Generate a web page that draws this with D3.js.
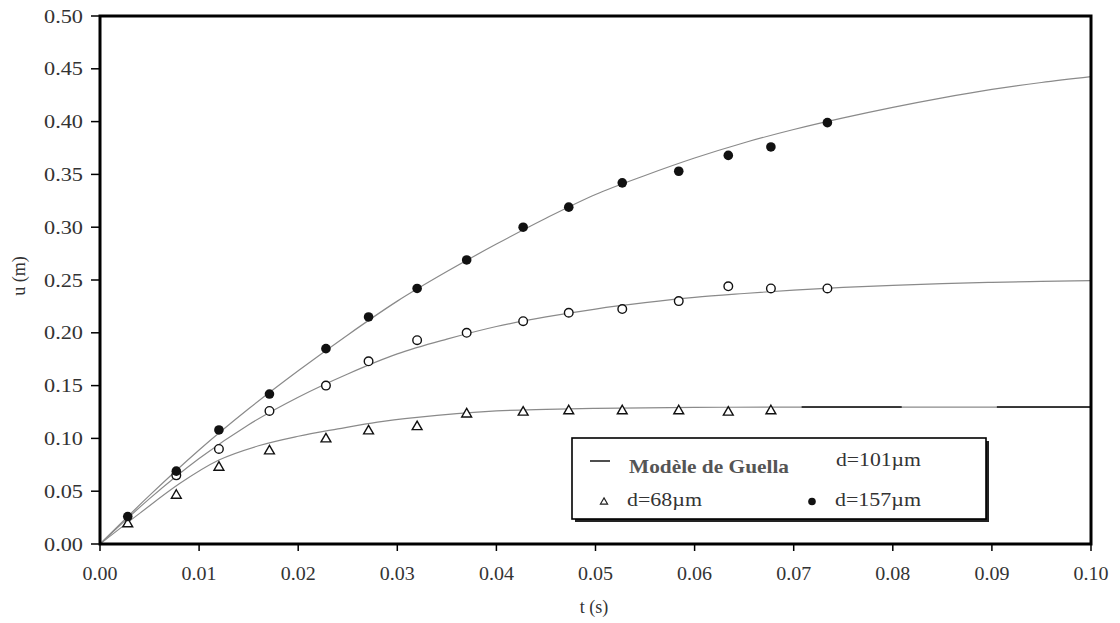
<!DOCTYPE html>
<html>
<head>
<meta charset="utf-8">
<script src="https://cdn.jsdelivr.net/npm/d3@7"></script>
<style>
  html, body { margin: 0; padding: 0; background: #fff; }
  svg { display: block; }
</style>
</head>
<body>
<svg id="chart" width="1120" height="623" font-family="'Liberation Serif', 'Times New Roman', Tinos, Times, serif"></svg>
<script>
// ---- data ----
const tSample = [0.0028, 0.0077, 0.0120, 0.0171, 0.0228, 0.0271, 0.0320, 0.0370, 0.0427, 0.0473, 0.0527, 0.0584, 0.0634, 0.0677, 0.0734];
const u157 = [0.026, 0.069, 0.108, 0.142, 0.185, 0.215, 0.242, 0.269, 0.300, 0.319, 0.342, 0.353, 0.368, 0.376, 0.399];
const u101 = [null, 0.065, 0.090, 0.126, 0.150, 0.173, 0.193, 0.200, 0.211, 0.219, 0.2225, 0.230, 0.244, 0.242, 0.242];
const u68  = [0.019, 0.046, 0.0726, 0.088, 0.0994, 0.107, 0.111, 0.123, 0.1247, 0.126, 0.126, 0.126, 0.1247, 0.126, null];

// model (Guella) curves
const modelT157 = [0, 0.005, 0.01, 0.015, 0.02, 0.025, 0.03, 0.035, 0.04, 0.045, 0.05, 0.055, 0.06, 0.065, 0.07, 0.075, 0.08, 0.085, 0.09, 0.095, 0.1];
const modelU157 = [0, 0.046, 0.089, 0.128, 0.164, 0.198, 0.230, 0.258, 0.284, 0.3085, 0.331, 0.349, 0.3655, 0.380, 0.3925, 0.4035, 0.4135, 0.4225, 0.4305, 0.437, 0.4425];
const modelT101 = [0, 0.005, 0.01, 0.015, 0.02, 0.025, 0.03, 0.035, 0.04, 0.045, 0.05, 0.055, 0.06, 0.065, 0.07, 0.075, 0.08, 0.085, 0.09, 0.095, 0.1];
const modelU101 = [0, 0.043, 0.081, 0.113, 0.139, 0.161, 0.180, 0.194, 0.206, 0.215, 0.2225, 0.2285, 0.2335, 0.2372, 0.2405, 0.2430, 0.2450, 0.2466, 0.2478, 0.2487, 0.2494];
const modelT68 = [0, 0.004, 0.008, 0.012, 0.016, 0.02, 0.024, 0.028, 0.032, 0.036, 0.04, 0.045, 0.05, 0.06, 0.07, 0.08, 0.09, 0.1];
const modelU68 = [0, 0.029, 0.057, 0.0795, 0.093, 0.102, 0.109, 0.1155, 0.120, 0.1235, 0.126, 0.1275, 0.1285, 0.1293, 0.1297, 0.1297, 0.1297, 0.1297];
// dark stretches visible on the d=68µm model line
const darkSegT0 = [0.0708, 0.0905];
const darkSegT1 = [0.0809, 0.1];
const darkSegU = 0.1297;

const xTicks = [0, 0.01, 0.02, 0.03, 0.04, 0.05, 0.06, 0.07, 0.08, 0.09, 0.10];
const yTicks = [0, 0.05, 0.10, 0.15, 0.20, 0.25, 0.30, 0.35, 0.40, 0.45, 0.50];
const xLabel = "t (s)";
const yLabel = "u (m)";
const legendModel = "Modèle de Guella";
const legend101 = "d=101µm";
const legend68 = "d=68µm";
const legend157 = "d=157µm";

// ---- drawing ----
const svg = d3.select("#chart");
const L = 100, R = 1091, T = 16, B = 544;
const x = d3.scaleLinear().domain([0, 0.10]).range([L, R]);
const y = d3.scaleLinear().domain([0, 0.50]).range([B, T]);

const lineColor = "#8a8a8a";
const txt = "#333";

// model curves
const line = d3.line().x(d => x(d[0])).y(d => y(d[1])).curve(d3.curveMonotoneX);
[[modelT68, modelU68], [modelT101, modelU101], [modelT157, modelU157]].forEach(([ts, us]) => {
  svg.append("path")
    .attr("d", line(ts.map((t, i) => [t, us[i]])))
    .attr("fill", "none")
    .attr("stroke", lineColor)
    .attr("stroke-width", 1.2);
});
darkSegT0.forEach((t0, i) => {
  svg.append("line")
    .attr("x1", x(t0)).attr("x2", x(darkSegT1[i]))
    .attr("y1", y(darkSegU)).attr("y2", y(darkSegU))
    .attr("stroke", "#111").attr("stroke-width", 1.6);
});

// markers
const tri = d3.symbol().type(d3.symbolTriangle).size(42);
tSample.forEach((t, i) => {
  if (u68[i] != null) {
    svg.append("path").attr("d", tri())
      .attr("transform", `translate(${x(t)},${y(u68[i])})`)
      .attr("fill", "#fff").attr("stroke", "#111").attr("stroke-width", 1.4);
  }
});
tSample.forEach((t, i) => {
  if (u101[i] != null) {
    svg.append("circle").attr("cx", x(t)).attr("cy", y(u101[i])).attr("r", 4.3)
      .attr("fill", "#fff").attr("stroke", "#111").attr("stroke-width", 1.4);
  }
});
tSample.forEach((t, i) => {
  svg.append("circle").attr("cx", x(t)).attr("cy", y(u157[i])).attr("r", 4.8)
    .attr("fill", "#111");
});

// frame
svg.append("rect").attr("x", L).attr("y", T).attr("width", R - L).attr("height", B - T)
  .attr("fill", "none").attr("stroke", "#000").attr("stroke-width", 3);

// y ticks
yTicks.forEach(v => {
  svg.append("line").attr("x1", L - 9).attr("x2", L).attr("y1", y(v)).attr("y2", y(v))
    .attr("stroke", "#000").attr("stroke-width", 1.5);
  svg.append("text").attr("x", 83).attr("y", y(v) + 6.5)
    .attr("text-anchor", "end").attr("font-size", 19).attr("fill", txt)
    .attr("textLength", 39).attr("lengthAdjust", "spacingAndGlyphs")
    .text(v.toFixed(2));
});
// x ticks
xTicks.forEach(v => {
  svg.append("line").attr("x1", x(v)).attr("x2", x(v)).attr("y1", B).attr("y2", B + 7)
    .attr("stroke", "#000").attr("stroke-width", 1.5);
  svg.append("text").attr("x", x(v)).attr("y", 580)
    .attr("text-anchor", "middle").attr("font-size", 19).attr("fill", txt)
    .attr("textLength", 35).attr("lengthAdjust", "spacingAndGlyphs")
    .text(v.toFixed(2));
});
// axis titles
svg.append("text").attr("x", 594).attr("y", 613).attr("text-anchor", "middle")
  .attr("font-size", 18).attr("fill", txt).text(xLabel);
svg.append("text").attr("transform", "translate(25,276) rotate(-90)").attr("text-anchor", "middle")
  .attr("font-size", 18).attr("fill", txt).text(yLabel);

// legend
const lx = 572, ly = 438, lw = 414, lh = 81;
svg.append("rect").attr("x", lx + 3).attr("y", ly + 3).attr("width", lw).attr("height", lh)
  .attr("fill", "#222");
svg.append("rect").attr("x", lx).attr("y", ly).attr("width", lw).attr("height", lh)
  .attr("fill", "#fff").attr("stroke", "#000").attr("stroke-width", 1.6);
svg.append("line").attr("x1", 590).attr("x2", 610).attr("y1", 461).attr("y2", 461)
  .attr("stroke", "#222").attr("stroke-width", 1.6);
svg.append("text").attr("x", 629).attr("y", 473).attr("font-size", 19).attr("font-weight", "bold")
  .attr("fill", "#555").attr("textLength", 160).attr("lengthAdjust", "spacingAndGlyphs")
  .text(legendModel);
svg.append("text").attr("x", 836).attr("y", 466).attr("font-size", 19).attr("fill", txt)
  .attr("textLength", 85).attr("lengthAdjust", "spacingAndGlyphs").text(legend101);
svg.append("path").attr("d", d3.symbol().type(d3.symbolTriangle).size(22)())
  .attr("transform", "translate(604,502)").attr("fill", "#fff").attr("stroke", "#222").attr("stroke-width", 1.2);
svg.append("text").attr("x", 627).attr("y", 506).attr("font-size", 19).attr("fill", txt)
  .attr("textLength", 75).attr("lengthAdjust", "spacingAndGlyphs").text(legend68);
svg.append("circle").attr("cx", 812).attr("cy", 501.5).attr("r", 3.8).attr("fill", "#111");
svg.append("text").attr("x", 835).attr("y", 506).attr("font-size", 19).attr("fill", txt)
  .attr("textLength", 86).attr("lengthAdjust", "spacingAndGlyphs").text(legend157);
</script>
</body>
</html>
